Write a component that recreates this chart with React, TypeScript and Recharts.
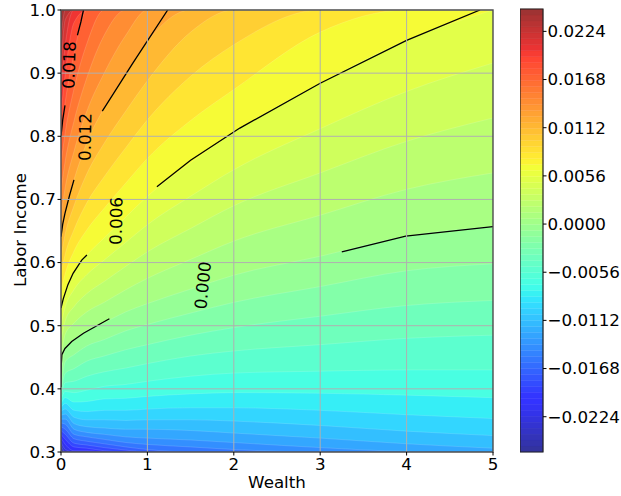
import {
  ComposedChart,
  Area,
  Line,
  XAxis,
  YAxis,
  CartesianGrid,
  ReferenceLine,
  ReferenceArea,
} from "recharts";

const FONT = "DejaVu Sans";
const FS = 16.7;

// colour scale of the filled contours (colorbar limits)
const VMIN = -0.0265;
const VMAX = 0.025;
const CB_TICKS = [-0.0224, -0.0168, -0.0112, -0.0056, 0, 0.0056, 0.0112, 0.0168, 0.0224];
const CB_STEPS = 74;

const X_TICKS = [0, 1, 2, 3, 4, 5];
const Y_TICKS = [0.3, 0.4, 0.5, 0.6, 0.7, 0.8, 0.9, 1.0];

// wealth positions where the level curves were read
const WEALTH = [0, 0.05, 0.15, 0.3, 0.5, 0.75, 1, 1.5, 2, 3, 4, 5];

// filled contour levels
const LEVELS = [
  -0.0255, -0.024, -0.0225, -0.021, -0.0195, -0.018, -0.0165, -0.015, -0.0135, -0.012,
  -0.0105, -0.009, -0.0075, -0.006, -0.0045, -0.003, -0.0015, 0, 0.0015, 0.003, 0.0045,
  0.006, 0.0075, 0.009, 0.0105, 0.012, 0.0135, 0.015, 0.0165, 0.018, 0.0195, 0.021,
  0.0225, 0.024,
];

// labor income where each level is crossed, at each WEALTH point
const LEVEL_CURVES = [
  [0.303, 0.3, 0.3, 0.3, 0.3, 0.3, 0.3, 0.3, 0.3, 0.3, 0.3, 0.3],
  [0.31, 0.3, 0.3, 0.3, 0.3, 0.3, 0.3, 0.3, 0.3, 0.3, 0.3, 0.3],
  [0.316, 0.304, 0.3, 0.3, 0.3, 0.3, 0.3, 0.3, 0.3, 0.3, 0.3, 0.3],
  [0.322, 0.312, 0.302, 0.302, 0.3, 0.3, 0.3, 0.3, 0.3, 0.3, 0.3, 0.3],
  [0.328, 0.32, 0.308, 0.306, 0.302, 0.3, 0.3, 0.3, 0.3, 0.3, 0.3, 0.3],
  [0.334, 0.328, 0.314, 0.311, 0.307, 0.303, 0.3, 0.3, 0.3, 0.3, 0.3, 0.3],
  [0.34, 0.336, 0.321, 0.317, 0.313, 0.308, 0.304, 0.3, 0.3, 0.3, 0.3, 0.3],
  [0.346, 0.344, 0.328, 0.324, 0.32, 0.315, 0.312, 0.308, 0.304, 0.3, 0.3, 0.3],
  [0.352, 0.352, 0.336, 0.331, 0.328, 0.324, 0.322, 0.319, 0.315, 0.307, 0.301, 0.3],
  [0.358, 0.36, 0.345, 0.34, 0.338, 0.336, 0.336, 0.334, 0.33, 0.322, 0.313, 0.306],
  [0.364, 0.368, 0.355, 0.351, 0.351, 0.35, 0.351, 0.351, 0.349, 0.342, 0.333, 0.326],
  [0.37, 0.377, 0.366, 0.364, 0.366, 0.366, 0.368, 0.37, 0.37, 0.366, 0.359, 0.353],
  [0.376, 0.386, 0.379, 0.38, 0.384, 0.385, 0.388, 0.392, 0.394, 0.393, 0.39, 0.386],
  [0.382, 0.396, 0.394, 0.398, 0.404, 0.407, 0.412, 0.42, 0.425, 0.428, 0.43, 0.43],
  [0.388, 0.41, 0.412, 0.42, 0.427, 0.433, 0.44, 0.452, 0.46, 0.47, 0.48, 0.485],
  [0.394, 0.425, 0.432, 0.444, 0.452, 0.462, 0.47, 0.485, 0.497, 0.515, 0.532, 0.54],
  [0.4, 0.443, 0.454, 0.468, 0.478, 0.492, 0.502, 0.52, 0.537, 0.562, 0.587, 0.598],
  [0.42, 0.465, 0.478, 0.493, 0.505, 0.522, 0.535, 0.558, 0.58, 0.61, 0.642, 0.657],
  [0.45, 0.487, 0.504, 0.522, 0.537, 0.557, 0.575, 0.605, 0.634, 0.675, 0.716, 0.742],
  [0.475, 0.508, 0.53, 0.551, 0.57, 0.594, 0.617, 0.654, 0.69, 0.742, 0.792, 0.829],
  [0.502, 0.53, 0.557, 0.581, 0.604, 0.632, 0.66, 0.705, 0.747, 0.812, 0.871, 0.916],
  [0.528, 0.553, 0.586, 0.612, 0.639, 0.672, 0.705, 0.758, 0.806, 0.884, 0.952, 1.0],
  [0.555, 0.583, 0.618, 0.652, 0.686, 0.726, 0.765, 0.825, 0.874, 0.965, 1, 1],
  [0.583, 0.614, 0.652, 0.695, 0.736, 0.782, 0.826, 0.895, 0.945, 1, 1, 1],
  [0.61, 0.646, 0.69, 0.741, 0.789, 0.84, 0.888, 0.965, 1, 1, 1, 1],
  [0.64, 0.68, 0.731, 0.79, 0.845, 0.898, 0.95, 1, 1, 1, 1, 1],
  [0.675, 0.72, 0.776, 0.84, 0.9, 0.96, 1, 1, 1, 1, 1, 1],
  [0.715, 0.762, 0.824, 0.893, 0.96, 1, 1, 1, 1, 1, 1, 1],
  [0.757, 0.807, 0.875, 0.947, 1, 1, 1, 1, 1, 1, 1, 1],
  [0.8, 0.855, 0.93, 1, 1, 1, 1, 1, 1, 1, 1, 1],
  [0.835, 0.9, 0.98, 1, 1, 1, 1, 1, 1, 1, 1, 1],
  [0.87, 0.945, 1, 1, 1, 1, 1, 1, 1, 1, 1, 1],
  [0.91, 0.985, 1, 1, 1, 1, 1, 1, 1, 1, 1, 1],
  [0.955, 1, 1, 1, 1, 1, 1, 1, 1, 1, 1, 1],
];

// black contour lines (split where the inline labels sit)
const C018_A = [
  { w: 0, y: 0.8 },
  { w: 0.02, y: 0.826 },
  { w: 0.046, y: 0.849 },
];
const C018_B = [
  { w: 0.19, y: 0.96 },
  { w: 0.23, y: 0.981 },
  { w: 0.26, y: 1.0 },
];
const C012_A = [
  { w: 0, y: 0.641 },
  { w: 0.02, y: 0.661 },
  { w: 0.046, y: 0.678 },
  { w: 0.1, y: 0.707 },
  { w: 0.15, y: 0.731 },
];
const C012_B = [
  { w: 0.478, y: 0.84 },
  { w: 0.837, y: 0.917 },
  { w: 1.235, y: 1.0 },
];
const C006_A = [
  { w: 0, y: 0.528 },
  { w: 0.027, y: 0.543 },
  { w: 0.08, y: 0.565 },
  { w: 0.14, y: 0.583 },
  { w: 0.24, y: 0.604 },
  { w: 0.3, y: 0.612 },
];
const C006_B = [
  { w: 1.11, y: 0.72 },
  { w: 1.5, y: 0.762 },
  { w: 2.07, y: 0.813 },
  { w: 3.0, y: 0.884 },
  { w: 4.0, y: 0.952 },
  { w: 4.85, y: 1.0 },
];
const C000_A = [
  { w: 0, y: 0.403 },
  { w: 0.004, y: 0.44 },
  { w: 0.01, y: 0.454 },
  { w: 0.046, y: 0.464 },
  { w: 0.124, y: 0.475 },
  { w: 0.26, y: 0.488 },
  { w: 0.41, y: 0.4995 },
  { w: 0.56, y: 0.511 },
];
const C000_B = [
  { w: 3.25, y: 0.617 },
  { w: 3.99, y: 0.642 },
  { w: 5.0, y: 0.657 },
];
const CONTOUR_SEGMENTS = [C018_A, C018_B, C012_A, C012_B, C006_A, C006_B, C000_A, C000_B];

const CONTOUR_LABELS = [
  { w: 0.093, y: 0.913, text: "0.018", angle: -88 },
  { w: 0.278, y: 0.799, text: "0.012", angle: -89 },
  { w: 0.637, y: 0.666, text: "0.006", angle: -89 },
  { w: 1.64, y: 0.564, text: "0.000", angle: -84 },
];

const JET_R = [[0, 0], [0.35, 0], [0.66, 1], [0.89, 1], [1, 0.5]];
const JET_G = [[0, 0], [0.125, 0], [0.375, 1], [0.64, 1], [0.91, 0], [1, 0]];
const JET_B = [[0, 0.5], [0.11, 1], [0.34, 1], [0.65, 0], [1, 0]];

function channel(pts: number[][], t: number) {
  for (let i = 1; i < pts.length; i++) {
    if (t <= pts[i][0]) {
      const [x0, y0] = pts[i - 1];
      const [x1, y1] = pts[i];
      return y0 + ((t - x0) / (x1 - x0)) * (y1 - y0);
    }
  }
  return pts[pts.length - 1][1];
}

// jet with alpha 0.8 over white
function jetColor(v: number) {
  const t = Math.min(1, Math.max(0, (v - VMIN) / (VMAX - VMIN)));
  const c = [JET_R, JET_G, JET_B].map((p) => Math.round(255 * (0.2 + 0.8 * channel(p, t))));
  return `rgb(${c[0]},${c[1]},${c[2]})`;
}

const tableData = WEALTH.map((w, i) => {
  const row: Record<string, number> = { w };
  LEVELS.forEach((_, k) => {
    row[`l${k}`] = LEVEL_CURVES[k][i];
  });
  return row;
});

const cbStep = (VMAX - VMIN) / CB_STEPS;
const cbBands = Array.from({ length: CB_STEPS }, (_, i) => ({
  y1: VMIN + i * cbStep,
  y2: VMIN + (i + 1) * cbStep,
}));

const fmtCb = (v: number) => (v < 0 ? "\u2212" + Math.abs(v).toFixed(4) : v.toFixed(4));

const tickStyle = { fill: "#000", fontSize: FS, fontFamily: FONT };

const renderLabel = (props: any) => {
  const { cx, cy, payload, index } = props;
  return (
    <text
      key={`lab-${index}`}
      x={cx}
      y={cy}
      transform={`rotate(${payload.angle} ${cx} ${cy})`}
      textAnchor="middle"
      dominantBaseline="central"
      fontSize={FS}
      fontFamily={FONT}
      fill="#000"
    >
      {payload.text}
    </text>
  );
};

export default function App() {
  return (
    <div
      style={{
        position: "absolute",
        left: 0,
        top: 0,
        width: 621,
        height: 496,
        background: "#fff",
        fontFamily: FONT,
      }}
    >
      <div style={{ position: "absolute", left: 0, top: 0 }}>
        <ComposedChart
          width={621}
          height={496}
          data={tableData}
          margin={{ top: 10, right: 128, bottom: 0, left: 0 }}
        >
          <CartesianGrid
            horizontal={false}
            vertical={false}
            fill={jetColor((VMIN + LEVELS[0]) / 2)}
            fillOpacity={1}
          />
          <XAxis
            dataKey="w"
            type="number"
            domain={[0, 5]}
            ticks={X_TICKS}
            interval={0}
            allowDataOverflow
            height={44}
            axisLine={false}
            stroke="#000"
            tickSize={3.5}
            tickMargin={3}
            tick={tickStyle}
          />
          <YAxis
            type="number"
            domain={[0.3, 1.0]}
            ticks={Y_TICKS}
            interval={0}
            allowDataOverflow
            width={61}
            axisLine={false}
            stroke="#000"
            tickSize={3.5}
            tickMargin={1.5}
            tick={tickStyle}
            tickFormatter={(v: number) => v.toFixed(1)}
          />
          {LEVELS.map((lv, k) => {
            const top = k + 1 < LEVELS.length ? LEVELS[k + 1] : VMAX;
            return (
              <Area
                key={`lv${k}`}
                dataKey={`l${k}`}
                type="monotone"
                baseValue={1}
                fill={jetColor((lv + top) / 2)}
                fillOpacity={1}
                stroke="rgba(255,255,255,0.28)"
                strokeWidth={0.5}
                dot={false}
                activeDot={false}
                isAnimationActive={false}
              />
            );
          })}
          {X_TICKS.slice(1, -1).map((x) => (
            <ReferenceLine key={`gx${x}`} x={x} stroke="#b0b0b0" strokeWidth={1} zIndex={450} />
          ))}
          {Y_TICKS.slice(1, -1).map((y) => (
            <ReferenceLine key={`gy${y}`} y={y} stroke="#b0b0b0" strokeWidth={1} zIndex={450} />
          ))}
          {CONTOUR_SEGMENTS.map((seg, i) => (
            <Line
              key={`c${i}`}
              data={seg}
              dataKey="y"
              type="linear"
              stroke="#000"
              strokeWidth={1.3}
              dot={false}
              activeDot={false}
              isAnimationActive={false}
            />
          ))}
          <Line
            data={CONTOUR_LABELS}
            dataKey="y"
            stroke="none"
            dot={renderLabel}
            activeDot={false}
            isAnimationActive={false}
          />
          <ReferenceArea
            x1={0}
            x2={5}
            y1={0.3}
            y2={1.0}
            fill="none"
            fillOpacity={0}
            stroke="#4d4d4d"
            strokeWidth={1.4}
            zIndex={460}
          />
        </ComposedChart>
      </div>

      <div style={{ position: "absolute", left: 520, top: 0 }}>
        <ComposedChart
          width={101}
          height={496}
          data={[{ x: 0 }, { x: 1 }]}
          margin={{ top: 9, right: 0, bottom: 44, left: 0 }}
        >
          <XAxis dataKey="x" type="number" domain={[0, 1]} hide />
          <YAxis
            orientation="right"
            type="number"
            domain={[VMIN, VMAX]}
            ticks={CB_TICKS}
            interval={0}
            allowDataOverflow
            width={78}
            axisLine={false}
            stroke="#000"
            tickSize={3.5}
            tickMargin={1}
            tick={tickStyle}
            tickFormatter={fmtCb}
          />
          {cbBands.map((b, i) => (
            <ReferenceArea
              key={`cb${i}`}
              x1={0}
              x2={1}
              y1={b.y1}
              y2={b.y2}
              fill={jetColor((b.y1 + b.y2) / 2)}
              fillOpacity={1}
              stroke={jetColor((b.y1 + b.y2) / 2)}
              strokeWidth={0.3}
            />
          ))}
          <ReferenceArea
            x1={0}
            x2={1}
            y1={VMIN}
            y2={VMAX}
            fill="none"
            fillOpacity={0}
            stroke="#222"
            strokeWidth={1.2}
          />
        </ComposedChart>
      </div>

      <svg
        width={621}
        height={496}
        style={{ position: "absolute", left: 0, top: 0, pointerEvents: "none" }}
      >
        <text x={277} y={488} textAnchor="middle" fontSize={FS} fontFamily={FONT} fill="#000">
          Wealth
        </text>
        <text
          x={25.5}
          y={230}
          transform="rotate(-90 25.5 230)"
          textAnchor="middle"
          fontSize={FS}
          fontFamily={FONT}
          fill="#000"
        >
          Labor Income
        </text>
      </svg>
    </div>
  );
}
